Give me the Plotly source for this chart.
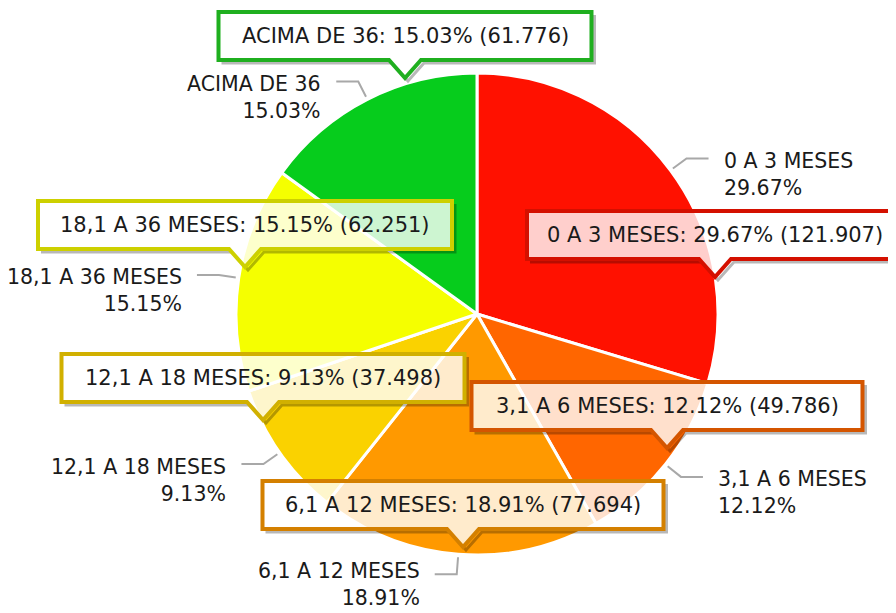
import math
import plotly.graph_objects as go

# ---------------- data ----------------
categories = ["0 A 3 MESES", "3,1 A 6 MESES", "6,1 A 12 MESES",
              "12,1 A 18 MESES", "18,1 A 36 MESES", "ACIMA DE 36"]
values = [121907, 49786, 77694, 37498, 62251, 61776]

# ---------------- style ----------------
slice_colors = ["#FF1100", "#FF6600", "#FF9900", "#FAD200", "#F5FF00", "#06CC1C"]
border_colors = ["#D41000", "#D45500", "#D48000", "#D1B000", "#CDD000", "#1FAF1F"]
FONT = "DejaVu Sans"
TXT = "#1a1a1a"

# page body has an 8px default margin; figure sized to fill the rest
OFF = 8
W, H = 896 - OFF, 613 - OFF
CX, CY, R = 477, 314, 239

# tooltip callouts: tip position (px in window) and box width (px) -- layout only
tip_pos = [(715, 277), (667, 448), (463, 547), (263, 420), (245, 267), (405, 78)]
box_w = [380, 395, 405, 407, 418, 377]


def px(x):
    return (x - OFF) / W


def py(y):
    return 1 - (y - OFF) / H


def path(points, close=False):
    s = "M " + " L ".join(f"{px(x):.5f},{py(y):.5f}" for x, y in points)
    return s + (" Z" if close else "")


total = sum(values)
pcts = [v / total * 100 for v in values]

RD = R + 2  # domain half-size (plotly draws the outline inside it)
fig = go.Figure()
fig.add_trace(go.Pie(
    labels=categories, values=values, sort=False, direction="clockwise",
    rotation=0, textinfo="none", hoverinfo="label+percent+value",
    marker=dict(colors=slice_colors, line=dict(color="white", width=3)),
    domain=dict(x=[px(CX - RD), px(CX + RD)], y=[py(CY + RD), py(CY - RD)]),
    showlegend=False,
))

shapes = []
annotations = []

# outside labels with leader lines, positioned from slice mid-angles
cum = 0.0
for cat, v, p in zip(categories, values, pcts):
    mid = (cum + v / 2) / total
    cum += v
    th = 2 * math.pi * mid
    s, c = math.sin(th), math.cos(th)
    sx, sy = CX + (R + 5) * s, CY - (R + 5) * c
    bx, by = CX + (R + 22) * s, CY - (R + 22) * c
    side = 1 if s >= 0 else -1
    ex = bx + side * 22
    shapes.append(dict(type="path", xref="paper", yref="paper",
                       path=path([(sx, sy), (bx, by), (ex, by)]),
                       line=dict(color="#A8A8A8", width=2), layer="above"))
    ly = min(by + 16, 613 - 29)  # keep the two-line label inside the page
    annotations.append(dict(
        xref="paper", yref="paper", x=px(ex + side * 13), y=py(ly),
        xanchor="left" if side > 0 else "right", yanchor="middle",
        align="left" if side > 0 else "right", showarrow=False,
        text=f"{cat}<br>{p:.2f}%", font=dict(family=FONT, size=20.5, color=TXT)))

# tooltip callouts
for cat, v, p, (tx, ty), bw, bc in zip(categories, values, pcts, tip_pos, box_w, border_colors):
    b = ty - 18
    t = b - 48
    hw = (bw - 4) / 2
    l, r = tx - hw, tx + hw
    hb = 16
    o = 3
    shapes.append(dict(type="path", xref="paper", yref="paper",
                       path=path([(r + o, t + o), (r + o, b + o), (tx + hb + o, b + o),
                                  (tx + o, ty + o), (tx - hb + o, b + o), (l + o, b + o)]),
                       line=dict(color="rgba(0,0,0,0.28)", width=3), layer="above"))
    shapes.append(dict(type="path", xref="paper", yref="paper",
                       path=path([(l, t), (r, t), (r, b), (tx + hb, b), (tx, ty),
                                  (tx - hb, b), (l, b)], close=True),
                       fillcolor="rgba(255,255,255,0.8)",
                       line=dict(color=bc, width=4), layer="above"))
    cnt = f"{v:,}".replace(",", ".")
    annotations.append(dict(
        xref="paper", yref="paper", x=px(tx), y=py((t + b) / 2),
        xanchor="center", yanchor="middle", showarrow=False,
        text=f"{cat}: {p:.2f}% ({cnt})",
        font=dict(family=FONT, size=21, color=TXT)))

fig.update_layout(
    width=W, height=H, margin=dict(l=0, r=0, t=0, b=0),
    paper_bgcolor="white", plot_bgcolor="white", showlegend=False,
    shapes=shapes, annotations=annotations,
)

fig.write_html("out.html")
